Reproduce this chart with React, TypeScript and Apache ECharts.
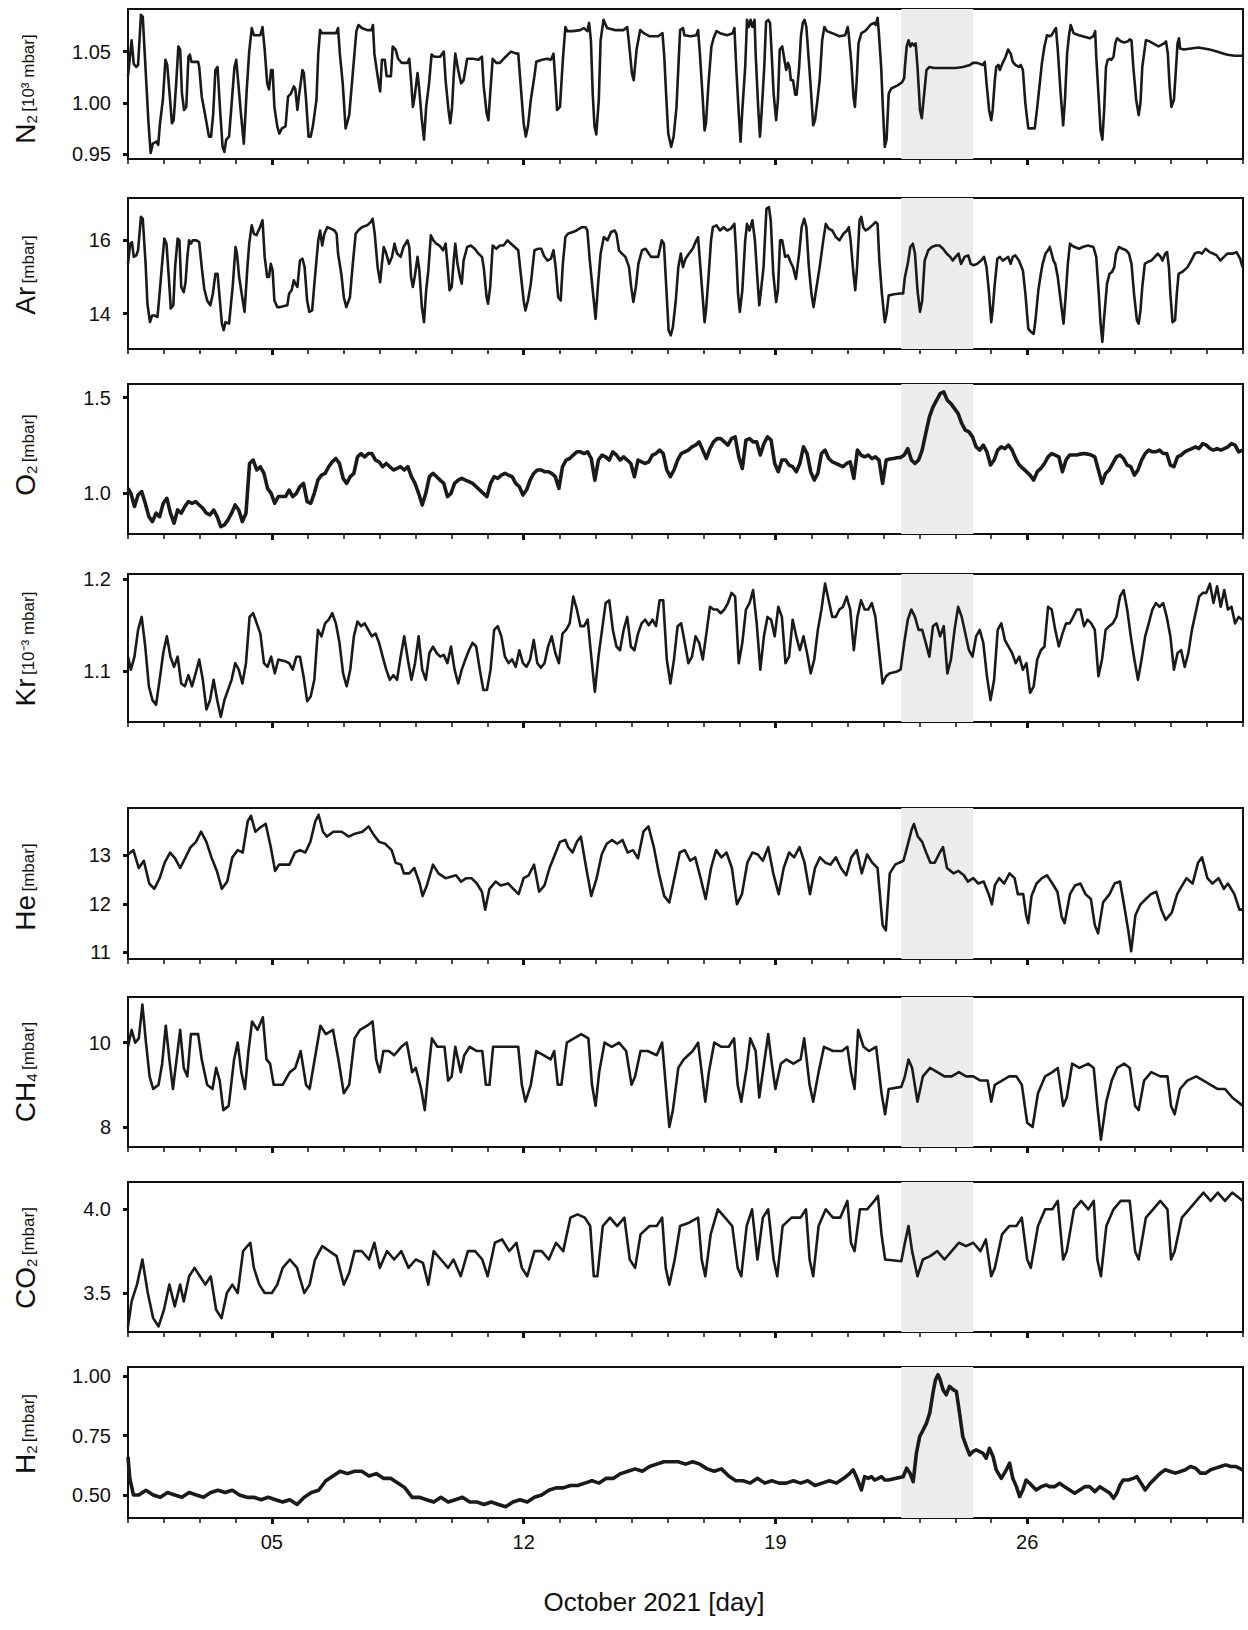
import React, { useEffect, useRef } from "react";
import * as echarts from "echarts";

// ---------- data (x = day of October 2021, 1.0 = Oct 1 00:00) ----------
const N2_DATA: [number, number][] = [
  [1.0, 1.026], [1.1, 1.061], [1.16, 1.038], [1.23, 1.035], [1.28, 1.037], [1.36, 1.086], [1.41, 1.084], [1.51, 1.019], [1.57, 0.98], [1.63, 0.951], [1.69, 0.96], [1.79, 0.962], [1.84, 0.959], [1.89, 0.98], [1.97, 1.003], [2.04, 1.042], [2.09, 1.037], [2.17, 1.003], [2.22, 0.98], [2.27, 0.983], [2.34, 1.019], [2.4, 1.055], [2.45, 1.052], [2.5, 1.009], [2.56, 0.993], [2.62, 0.996], [2.68, 1.045], [2.72, 1.047], [2.76, 1.04], [2.85, 1.04], [2.95, 1.04], [2.98, 1.035], [3.05, 1.006], [3.15, 0.987], [3.25, 0.967], [3.31, 0.967], [3.37, 0.99], [3.43, 1.032], [3.49, 1.035], [3.56, 0.993], [3.63, 0.957], [3.68, 0.952], [3.73, 0.964], [3.81, 0.967], [3.89, 1.003], [3.96, 1.035], [4.01, 1.042], [4.06, 1.022], [4.13, 0.993], [4.22, 0.96], [4.3, 1.012], [4.37, 1.05], [4.44, 1.073], [4.5, 1.066], [4.62, 1.066], [4.68, 1.066], [4.74, 1.074], [4.8, 1.052], [4.87, 1.019], [4.92, 1.013], [4.98, 1.032], [5.02, 1.032], [5.07, 0.996], [5.15, 0.977], [5.21, 0.97], [5.28, 0.975], [5.38, 0.977], [5.45, 1.006], [5.53, 1.009], [5.61, 1.016], [5.65, 1.014], [5.71, 0.993], [5.75, 1.006], [5.79, 1.016], [5.85, 1.032], [5.89, 1.029], [5.95, 1.003], [6.02, 0.967], [6.08, 0.967], [6.14, 0.977], [6.24, 1.003], [6.29, 1.048], [6.34, 1.071], [6.39, 1.068], [6.49, 1.068], [6.64, 1.068], [6.79, 1.068], [6.84, 1.073], [6.89, 1.048], [6.97, 1.019], [7.05, 0.975], [7.15, 0.988], [7.25, 1.029], [7.35, 1.07], [7.41, 1.076], [7.5, 1.073], [7.65, 1.071], [7.77, 1.071], [7.81, 1.076], [7.85, 1.048], [7.94, 1.026], [8.01, 1.011], [8.06, 1.042], [8.14, 1.042], [8.19, 1.026], [8.31, 1.026], [8.36, 1.055], [8.44, 1.052], [8.51, 1.043], [8.61, 1.039], [8.77, 1.039], [8.82, 1.043], [8.87, 1.022], [8.92, 0.996], [8.97, 1.006], [9.05, 1.029], [9.09, 1.016], [9.17, 0.983], [9.23, 0.964], [9.29, 0.996], [9.37, 1.019], [9.44, 1.047], [9.52, 1.045], [9.68, 1.045], [9.78, 1.05], [9.83, 1.022], [9.91, 0.993], [9.96, 0.98], [10.01, 0.996], [10.06, 1.029], [10.1, 1.048], [10.18, 1.032], [10.26, 1.019], [10.33, 1.022], [10.43, 1.043], [10.59, 1.043], [10.74, 1.042], [10.84, 1.045], [10.89, 1.016], [10.97, 0.99], [11.02, 0.983], [11.07, 1.009], [11.14, 1.043], [11.24, 1.039], [11.34, 1.039], [11.5, 1.045], [11.65, 1.05], [11.8, 1.048], [11.85, 1.048], [11.92, 1.016], [12.0, 0.98], [12.06, 0.967], [12.12, 0.977], [12.2, 1.003], [12.3, 1.026], [12.35, 1.04], [12.51, 1.042], [12.66, 1.043], [12.76, 1.042], [12.83, 1.048], [12.88, 1.022], [12.93, 0.993], [13.01, 0.996], [13.09, 1.042], [13.16, 1.074], [13.21, 1.07], [13.37, 1.07], [13.57, 1.071], [13.67, 1.073], [13.77, 1.07], [13.82, 1.078], [13.87, 1.061], [13.92, 1.009], [13.97, 0.977], [14.02, 0.969], [14.09, 1.003], [14.14, 1.061], [14.22, 1.081], [14.32, 1.073], [14.53, 1.071], [14.78, 1.071], [14.88, 1.074], [14.93, 1.058], [15.01, 1.029], [15.06, 1.022], [15.14, 1.052], [15.24, 1.071], [15.34, 1.068], [15.49, 1.065], [15.74, 1.065], [15.86, 1.068], [15.91, 1.045], [15.96, 1.009], [16.02, 0.97], [16.1, 0.957], [16.17, 0.967], [16.25, 0.996], [16.35, 1.071], [16.43, 1.073], [16.47, 1.066], [16.65, 1.065], [16.8, 1.066], [16.85, 1.071], [16.9, 1.048], [16.97, 1.009], [17.03, 0.973], [17.07, 0.98], [17.14, 1.019], [17.22, 1.055], [17.28, 1.063], [17.36, 1.07], [17.46, 1.068], [17.66, 1.066], [17.81, 1.068], [17.86, 1.073], [17.91, 1.035], [17.98, 0.99], [18.03, 0.962], [18.08, 0.993], [18.16, 1.035], [18.21, 1.081], [18.26, 1.074], [18.31, 1.081], [18.36, 1.074], [18.42, 1.081], [18.45, 1.048], [18.52, 0.996], [18.57, 0.967], [18.62, 0.993], [18.69, 1.035], [18.74, 1.079], [18.8, 1.081], [18.85, 1.078], [18.89, 1.052], [18.95, 1.009], [19.02, 0.983], [19.07, 1.003], [19.12, 1.052], [19.19, 1.055], [19.25, 1.042], [19.3, 1.032], [19.35, 1.039], [19.39, 1.035], [19.43, 1.022], [19.49, 1.022], [19.55, 1.008], [19.59, 1.008], [19.66, 1.035], [19.71, 1.065], [19.76, 1.078], [19.81, 1.081], [19.86, 1.074], [19.9, 1.055], [19.98, 1.016], [20.05, 0.978], [20.1, 0.983], [20.16, 1.0], [20.23, 1.022], [20.3, 1.061], [20.36, 1.074], [20.43, 1.07], [20.58, 1.068], [20.78, 1.065], [20.94, 1.066], [21.01, 1.074], [21.04, 1.066], [21.11, 1.039], [21.17, 1.006], [21.21, 0.996], [21.26, 1.022], [21.31, 1.058], [21.39, 1.068], [21.49, 1.07], [21.57, 1.073], [21.64, 1.076], [21.74, 1.078], [21.79, 1.076], [21.84, 1.083], [21.87, 1.071], [21.94, 1.035], [21.99, 0.993], [22.04, 0.957], [22.09, 0.964], [22.15, 1.009], [22.22, 1.014], [22.4, 1.017], [22.52, 1.02], [22.58, 1.024], [22.6, 1.035], [22.65, 1.055], [22.7, 1.061], [22.75, 1.055], [22.8, 1.058], [22.85, 1.056], [22.9, 1.058], [22.95, 1.035], [23.02, 0.993], [23.07, 0.985], [23.12, 1.003], [23.2, 1.032], [23.28, 1.035], [23.41, 1.034], [23.61, 1.034], [23.81, 1.034], [24.01, 1.034], [24.21, 1.035], [24.41, 1.037], [24.49, 1.039], [24.61, 1.039], [24.77, 1.037], [24.82, 1.04], [24.87, 1.019], [24.94, 0.993], [25.0, 0.983], [25.04, 0.993], [25.1, 1.022], [25.14, 1.035], [25.2, 1.037], [25.24, 1.032], [25.32, 1.039], [25.4, 1.045], [25.47, 1.052], [25.54, 1.048], [25.6, 1.04], [25.67, 1.037], [25.77, 1.035], [25.82, 1.037], [25.88, 1.032], [25.95, 0.999], [26.03, 0.975], [26.13, 0.975], [26.21, 0.975], [26.28, 0.996], [26.35, 1.019], [26.41, 1.039], [26.48, 1.055], [26.55, 1.066], [26.61, 1.065], [26.68, 1.066], [26.76, 1.071], [26.8, 1.073], [26.85, 1.052], [26.93, 1.009], [27.0, 0.978], [27.05, 1.003], [27.11, 1.048], [27.16, 1.065], [27.21, 1.076], [27.29, 1.068], [27.44, 1.066], [27.54, 1.065], [27.74, 1.063], [27.84, 1.065], [27.89, 1.07], [27.92, 1.045], [27.99, 1.003], [28.04, 0.973], [28.09, 0.964], [28.14, 0.993], [28.19, 1.035], [28.24, 1.042], [28.29, 1.043], [28.34, 1.042], [28.4, 1.045], [28.45, 1.058], [28.5, 1.063], [28.6, 1.06], [28.7, 1.059], [28.8, 1.06], [28.85, 1.062], [28.9, 1.061], [28.95, 1.035], [29.03, 1.003], [29.1, 0.988], [29.15, 1.0], [29.2, 1.035], [29.25, 1.048], [29.3, 1.061], [29.4, 1.06], [29.55, 1.057], [29.65, 1.055], [29.81, 1.058], [29.86, 1.06], [29.91, 1.048], [29.96, 1.016], [30.01, 0.996], [30.08, 1.003], [30.14, 1.035], [30.18, 1.058], [30.22, 1.063], [30.25, 1.053], [30.35, 1.052], [30.56, 1.053], [30.75, 1.054], [30.92, 1.053], [31.07, 1.052], [31.27, 1.05], [31.47, 1.048], [31.57, 1.047], [31.77, 1.046], [31.99, 1.046],
];

const AR_DATA: [number, number][] = [
  [1.0, 15.36], [1.06, 15.91], [1.11, 15.95], [1.16, 15.55], [1.23, 15.59], [1.28, 15.73], [1.36, 16.64], [1.41, 16.59], [1.49, 15.36], [1.54, 14.27], [1.61, 13.77], [1.67, 13.95], [1.74, 13.95], [1.82, 13.91], [1.87, 14.45], [1.94, 15.27], [2.01, 16.05], [2.07, 15.91], [2.14, 14.91], [2.19, 14.14], [2.26, 14.23], [2.31, 15.27], [2.38, 16.05], [2.43, 16.0], [2.48, 14.73], [2.55, 14.59], [2.6, 14.86], [2.65, 15.55], [2.7, 16.0], [2.75, 15.91], [2.8, 16.0], [2.9, 16.0], [2.98, 15.95], [3.05, 15.27], [3.12, 14.68], [3.2, 14.36], [3.29, 14.23], [3.36, 14.55], [3.43, 15.09], [3.49, 15.09], [3.53, 14.64], [3.61, 13.73], [3.66, 13.55], [3.71, 13.77], [3.81, 13.73], [3.91, 14.73], [3.99, 15.82], [4.03, 15.64], [4.09, 15.0], [4.16, 14.55], [4.24, 14.05], [4.32, 15.27], [4.37, 15.91], [4.44, 16.41], [4.5, 16.18], [4.57, 16.14], [4.67, 16.36], [4.74, 16.55], [4.8, 15.55], [4.87, 15.0], [4.92, 15.0], [4.97, 15.36], [5.02, 15.18], [5.07, 14.36], [5.15, 14.18], [5.23, 14.18], [5.43, 14.23], [5.48, 14.55], [5.55, 14.64], [5.61, 14.91], [5.65, 14.82], [5.71, 14.73], [5.78, 15.45], [5.85, 15.5], [5.91, 15.27], [5.98, 14.36], [6.04, 14.05], [6.12, 14.09], [6.19, 14.91], [6.29, 16.0], [6.34, 16.27], [6.4, 15.86], [6.46, 16.18], [6.54, 16.36], [6.64, 16.32], [6.74, 16.27], [6.8, 16.18], [6.84, 15.64], [6.93, 15.09], [7.0, 14.45], [7.07, 14.18], [7.17, 14.45], [7.25, 15.36], [7.33, 16.18], [7.4, 16.27], [7.5, 16.36], [7.65, 16.41], [7.75, 16.5], [7.8, 16.59], [7.86, 16.18], [7.94, 15.27], [8.01, 14.86], [8.06, 15.36], [8.11, 15.82], [8.18, 15.64], [8.26, 15.36], [8.34, 15.55], [8.41, 15.91], [8.48, 15.64], [8.58, 15.55], [8.66, 15.82], [8.77, 16.0], [8.82, 15.82], [8.87, 15.0], [8.92, 14.73], [8.97, 15.0], [9.05, 15.55], [9.1, 15.18], [9.17, 14.18], [9.23, 13.77], [9.29, 14.64], [9.35, 15.18], [9.42, 16.14], [9.49, 16.0], [9.57, 15.91], [9.66, 15.86], [9.76, 15.73], [9.83, 15.91], [9.88, 15.36], [9.94, 14.64], [10.0, 14.73], [10.06, 15.5], [10.1, 15.91], [10.16, 15.36], [10.23, 15.0], [10.28, 14.82], [10.33, 15.45], [10.43, 15.82], [10.53, 15.86], [10.64, 15.77], [10.74, 15.64], [10.84, 15.55], [10.89, 15.27], [10.97, 14.45], [11.01, 14.27], [11.07, 14.73], [11.14, 15.86], [11.24, 15.77], [11.34, 15.86], [11.44, 15.86], [11.55, 16.0], [11.65, 15.91], [11.75, 15.82], [11.85, 15.73], [11.92, 15.09], [12.0, 14.36], [12.05, 14.09], [12.12, 14.36], [12.2, 14.82], [12.3, 15.73], [12.39, 15.77], [12.49, 15.77], [12.56, 15.59], [12.66, 15.45], [12.76, 15.5], [12.83, 15.73], [12.89, 15.27], [12.96, 14.45], [13.03, 14.36], [13.09, 15.36], [13.16, 16.09], [13.23, 16.18], [13.37, 16.23], [13.47, 16.27], [13.62, 16.36], [13.72, 16.36], [13.77, 16.27], [13.84, 15.45], [13.92, 14.64], [14.0, 13.86], [14.07, 14.82], [14.14, 15.64], [14.23, 16.09], [14.33, 16.0], [14.43, 16.23], [14.53, 16.27], [14.58, 16.18], [14.65, 15.73], [14.73, 15.64], [14.83, 15.55], [14.93, 15.27], [14.99, 14.73], [15.05, 14.32], [15.12, 14.73], [15.19, 15.36], [15.29, 15.73], [15.39, 15.77], [15.54, 15.55], [15.64, 15.55], [15.74, 15.55], [15.84, 16.0], [15.9, 15.91], [15.96, 14.82], [16.03, 13.55], [16.09, 13.41], [16.15, 13.64], [16.23, 14.36], [16.3, 15.27], [16.37, 15.64], [16.43, 15.27], [16.5, 15.5], [16.6, 15.64], [16.7, 15.77], [16.8, 16.0], [16.85, 16.09], [16.9, 15.45], [16.97, 14.55], [17.03, 13.77], [17.07, 14.09], [17.14, 15.0], [17.21, 16.0], [17.26, 16.36], [17.36, 16.41], [17.46, 16.27], [17.56, 16.36], [17.66, 16.27], [17.76, 16.32], [17.86, 16.45], [17.91, 15.64], [17.96, 14.55], [18.01, 14.05], [18.08, 14.64], [18.16, 16.0], [18.21, 16.45], [18.28, 16.27], [18.36, 16.55], [18.43, 16.0], [18.49, 15.09], [18.55, 14.23], [18.59, 14.55], [18.67, 15.27], [18.75, 16.86], [18.82, 16.91], [18.87, 16.55], [18.94, 15.09], [19.02, 14.32], [19.07, 14.64], [19.13, 16.0], [19.19, 16.0], [19.27, 15.55], [19.35, 15.59], [19.42, 15.41], [19.49, 15.27], [19.57, 14.95], [19.66, 15.64], [19.73, 16.36], [19.8, 16.59], [19.86, 16.36], [19.93, 15.27], [20.0, 14.55], [20.06, 14.18], [20.13, 14.64], [20.23, 15.27], [20.33, 16.0], [20.4, 16.45], [20.48, 16.32], [20.58, 16.27], [20.68, 16.09], [20.78, 16.0], [20.89, 16.18], [20.99, 16.27], [21.04, 16.36], [21.09, 16.0], [21.17, 15.09], [21.22, 14.64], [21.27, 15.27], [21.34, 16.55], [21.39, 16.64], [21.44, 16.36], [21.51, 16.27], [21.59, 16.32], [21.69, 16.41], [21.79, 16.5], [21.84, 16.45], [21.89, 15.45], [21.96, 14.55], [22.04, 13.77], [22.09, 14.0], [22.15, 14.5], [22.3, 14.53], [22.45, 14.55], [22.55, 14.55], [22.6, 15.0], [22.68, 15.36], [22.75, 15.82], [22.82, 15.91], [22.88, 15.64], [22.95, 14.64], [23.02, 14.05], [23.08, 14.36], [23.15, 15.45], [23.25, 15.73], [23.35, 15.82], [23.46, 15.86], [23.56, 15.86], [23.66, 15.77], [23.76, 15.64], [23.86, 15.55], [23.93, 15.45], [24.01, 15.55], [24.09, 15.64], [24.16, 15.36], [24.26, 15.55], [24.36, 15.59], [24.43, 15.36], [24.51, 15.32], [24.61, 15.36], [24.72, 15.45], [24.8, 15.55], [24.87, 15.27], [24.94, 14.55], [25.0, 13.77], [25.04, 14.09], [25.1, 14.82], [25.17, 15.5], [25.24, 15.55], [25.32, 15.45], [25.4, 15.5], [25.47, 15.55], [25.54, 15.36], [25.6, 15.55], [25.67, 15.59], [25.77, 15.45], [25.88, 15.18], [25.95, 14.55], [26.03, 13.59], [26.11, 13.5], [26.18, 13.45], [26.23, 13.82], [26.31, 14.64], [26.38, 15.09], [26.43, 15.36], [26.51, 15.64], [26.58, 15.73], [26.63, 15.82], [26.68, 15.64], [26.73, 15.45], [26.78, 15.36], [26.85, 15.0], [26.93, 14.36], [27.01, 13.73], [27.06, 14.36], [27.13, 15.36], [27.19, 15.91], [27.24, 15.86], [27.32, 15.82], [27.44, 15.77], [27.54, 15.82], [27.69, 15.86], [27.84, 15.82], [27.92, 15.55], [27.99, 14.55], [28.04, 13.73], [28.09, 13.23], [28.14, 13.91], [28.22, 14.82], [28.29, 15.09], [28.36, 15.14], [28.42, 15.27], [28.47, 15.64], [28.55, 15.82], [28.65, 15.77], [28.75, 15.73], [28.83, 15.64], [28.9, 15.36], [28.97, 14.55], [29.05, 13.82], [29.1, 13.73], [29.15, 14.09], [29.2, 14.73], [29.27, 15.36], [29.35, 15.41], [29.45, 15.45], [29.55, 15.55], [29.63, 15.64], [29.71, 15.55], [29.76, 15.45], [29.84, 15.64], [29.89, 15.68], [29.94, 15.27], [29.98, 14.55], [30.04, 13.77], [30.11, 13.82], [30.16, 14.55], [30.21, 15.09], [30.31, 15.14], [30.46, 15.27], [30.56, 15.45], [30.66, 15.64], [30.76, 15.68], [30.86, 15.64], [30.96, 15.77], [31.07, 15.68], [31.17, 15.64], [31.27, 15.59], [31.37, 15.45], [31.47, 15.55], [31.57, 15.64], [31.72, 15.64], [31.82, 15.68], [31.92, 15.5], [31.99, 15.27],
];

// O2 and Kr: first value at day 1.00, then one reading every 0.1 day from day 1.08
const O2_VALUES: number[] = [
  1.026,
  1.0, 0.931, 0.991, 1.009, 0.948, 0.878, 0.852, 0.896, 0.878, 0.948, 0.974, 0.896, 0.844, 0.913, 0.896, 0.931, 0.957, 0.948, 0.957, 0.939,
  0.922, 0.896, 0.887, 0.913, 0.878, 0.826, 0.835, 0.861, 0.896, 0.939, 0.913, 0.852, 0.896, 1.156, 1.174, 1.122, 1.139, 1.104, 1.026, 1.0,
  0.948, 0.983, 0.983, 0.983, 1.017, 0.983, 1.0, 1.035, 1.052, 0.957, 0.948, 1.0, 1.069, 1.095, 1.104, 1.139, 1.165, 1.182, 1.156, 1.078,
  1.052, 1.087, 1.104, 1.191, 1.208, 1.191, 1.208, 1.208, 1.174, 1.165, 1.139, 1.156, 1.139, 1.122, 1.13, 1.139, 1.122, 1.139, 1.087, 1.052,
  1.0, 0.939, 1.0, 1.087, 1.104, 1.087, 1.069, 1.052, 0.983, 1.0, 1.052, 1.069, 1.078, 1.069, 1.061, 1.052, 1.035, 1.017, 1.0, 0.983,
  1.052, 1.087, 1.078, 1.095, 1.104, 1.095, 1.087, 1.052, 1.035, 0.991, 1.017, 1.069, 1.104, 1.122, 1.122, 1.113, 1.113, 1.104, 1.087, 1.026,
  1.139, 1.174, 1.182, 1.2, 1.217, 1.217, 1.208, 1.217, 1.182, 1.069, 1.174, 1.2, 1.191, 1.174, 1.217, 1.2, 1.174, 1.191, 1.174, 1.156,
  1.087, 1.174, 1.165, 1.156, 1.165, 1.2, 1.208, 1.226, 1.208, 1.122, 1.087, 1.122, 1.174, 1.208, 1.217, 1.226, 1.243, 1.252, 1.269, 1.226,
  1.182, 1.234, 1.269, 1.286, 1.286, 1.269, 1.252, 1.286, 1.295, 1.191, 1.13, 1.278, 1.286, 1.269, 1.269, 1.2, 1.26, 1.295, 1.278, 1.156,
  1.113, 1.174, 1.174, 1.148, 1.139, 1.113, 1.156, 1.243, 1.208, 1.113, 1.069, 1.104, 1.208, 1.226, 1.182, 1.165, 1.156, 1.148, 1.139, 1.156,
  1.165, 1.078, 1.226, 1.2, 1.191, 1.2, 1.182, 1.191, 1.174, 1.052, 1.174, 1.179, 1.182, 1.186, 1.188, 1.2, 1.234, 1.174, 1.156, 1.174,
  1.226, 1.313, 1.399, 1.451, 1.486, 1.521, 1.53, 1.486, 1.469, 1.443, 1.417, 1.365, 1.33, 1.321, 1.295, 1.243, 1.226, 1.252, 1.217, 1.148,
  1.174, 1.226, 1.243, 1.234, 1.252, 1.226, 1.182, 1.148, 1.13, 1.113, 1.095, 1.069, 1.113, 1.13, 1.156, 1.191, 1.208, 1.2, 1.191, 1.113,
  1.174, 1.2, 1.2, 1.2, 1.205, 1.208, 1.205, 1.2, 1.191, 1.122, 1.052, 1.104, 1.122, 1.156, 1.191, 1.2, 1.182, 1.148, 1.139, 1.095,
  1.122, 1.174, 1.208, 1.226, 1.217, 1.217, 1.226, 1.208, 1.208, 1.148, 1.139, 1.191, 1.2, 1.217, 1.226, 1.234, 1.243, 1.234, 1.26, 1.252,
  1.234, 1.226, 1.234, 1.226, 1.234, 1.243, 1.26, 1.252, 1.217, 1.226,
];

const KR_VALUES: number[] = [
  1.116,
  1.102, 1.116, 1.145, 1.159, 1.127, 1.084, 1.069, 1.064, 1.091, 1.12, 1.138, 1.116, 1.105, 1.116, 1.087, 1.084, 1.096, 1.084, 1.098, 1.113,
  1.091, 1.059, 1.069, 1.091, 1.069, 1.051, 1.069, 1.08, 1.091, 1.109, 1.102, 1.087, 1.109, 1.159, 1.163, 1.152, 1.141, 1.109, 1.105, 1.116,
  1.098, 1.113, 1.112, 1.111, 1.109, 1.102, 1.116, 1.116, 1.095, 1.068, 1.073, 1.091, 1.145, 1.138, 1.152, 1.156, 1.163, 1.152, 1.131, 1.098,
  1.084, 1.102, 1.138, 1.154, 1.149, 1.152, 1.145, 1.138, 1.141, 1.131, 1.116, 1.102, 1.091, 1.096, 1.091, 1.116, 1.138, 1.113, 1.091, 1.109,
  1.138, 1.102, 1.091, 1.12, 1.127, 1.12, 1.116, 1.118, 1.109, 1.127, 1.102, 1.087, 1.102, 1.113, 1.123, 1.131, 1.127, 1.102, 1.08, 1.08,
  1.102, 1.145, 1.149, 1.138, 1.116, 1.109, 1.113, 1.105, 1.123, 1.109, 1.105, 1.113, 1.134, 1.109, 1.104, 1.109, 1.127, 1.138, 1.12, 1.109,
  1.141, 1.145, 1.152, 1.181, 1.167, 1.149, 1.149, 1.156, 1.116, 1.078, 1.116, 1.145, 1.174, 1.177, 1.145, 1.127, 1.123, 1.145, 1.159, 1.127,
  1.123, 1.141, 1.152, 1.156, 1.15, 1.156, 1.149, 1.177, 1.177, 1.113, 1.087, 1.113, 1.149, 1.152, 1.131, 1.109, 1.116, 1.138, 1.131, 1.113,
  1.141, 1.17, 1.167, 1.167, 1.163, 1.167, 1.174, 1.185, 1.181, 1.109, 1.131, 1.167, 1.174, 1.188, 1.152, 1.102, 1.138, 1.159, 1.156, 1.138,
  1.17, 1.159, 1.109, 1.116, 1.156, 1.138, 1.123, 1.138, 1.12, 1.098, 1.113, 1.145, 1.167, 1.195, 1.177, 1.159, 1.159, 1.167, 1.17, 1.181,
  1.167, 1.123, 1.159, 1.177, 1.167, 1.167, 1.174, 1.159, 1.123, 1.087, 1.095, 1.098, 1.099, 1.1, 1.102, 1.131, 1.156, 1.167, 1.159, 1.145,
  1.145, 1.131, 1.116, 1.149, 1.152, 1.138, 1.149, 1.098, 1.113, 1.145, 1.17, 1.159, 1.141, 1.123, 1.116, 1.138, 1.145, 1.131, 1.095, 1.069,
  1.091, 1.145, 1.152, 1.134, 1.127, 1.12, 1.109, 1.116, 1.102, 1.109, 1.077, 1.084, 1.113, 1.123, 1.127, 1.17, 1.167, 1.145, 1.127, 1.141,
  1.152, 1.152, 1.159, 1.167, 1.167, 1.149, 1.156, 1.152, 1.145, 1.095, 1.113, 1.145, 1.149, 1.152, 1.159, 1.181, 1.188, 1.167, 1.138, 1.113,
  1.091, 1.113, 1.138, 1.152, 1.167, 1.174, 1.17, 1.174, 1.159, 1.138, 1.102, 1.12, 1.123, 1.105, 1.12, 1.145, 1.163, 1.181, 1.185, 1.185,
  1.195, 1.174, 1.192, 1.17, 1.188, 1.167, 1.17, 1.152, 1.159, 1.156,
];

const HE_DATA: [number, number][] = [
  [1.0, 13.02], [1.15, 13.11], [1.3, 12.74], [1.44, 12.89], [1.59, 12.42], [1.73, 12.31], [1.88, 12.53], [2.02, 12.85], [2.17, 13.06], [2.31, 12.94], [2.45, 12.74], [2.6, 12.96], [2.74, 13.17], [2.89, 13.28], [3.03, 13.49], [3.18, 13.28], [3.32, 12.96], [3.47, 12.68], [3.61, 12.31], [3.76, 12.46], [3.9, 12.96], [4.05, 13.11], [4.19, 13.06], [4.33, 13.71], [4.42, 13.82], [4.54, 13.49], [4.68, 13.58], [4.83, 13.65], [4.97, 13.17], [5.09, 12.68], [5.2, 12.81], [5.49, 12.81], [5.64, 13.06], [5.78, 13.11], [5.93, 13.06], [6.07, 13.28], [6.21, 13.71], [6.3, 13.84], [6.42, 13.49], [6.53, 13.39], [6.71, 13.49], [6.94, 13.49], [7.14, 13.39], [7.31, 13.45], [7.52, 13.49], [7.69, 13.6], [7.81, 13.45], [7.98, 13.28], [8.15, 13.24], [8.33, 13.11], [8.44, 12.85], [8.59, 12.81], [8.67, 12.63], [8.82, 12.63], [8.96, 12.74], [9.11, 12.42], [9.19, 12.16], [9.31, 12.38], [9.48, 12.81], [9.63, 12.63], [9.83, 12.53], [10.12, 12.59], [10.26, 12.46], [10.41, 12.53], [10.55, 12.53], [10.7, 12.42], [10.84, 12.25], [10.93, 11.88], [11.05, 12.31], [11.22, 12.46], [11.36, 12.38], [11.57, 12.42], [11.74, 12.29], [11.86, 12.2], [12.0, 12.53], [12.14, 12.59], [12.29, 12.81], [12.43, 12.25], [12.58, 12.38], [12.72, 12.74], [12.87, 13.02], [13.01, 13.28], [13.16, 13.32], [13.24, 13.17], [13.36, 13.06], [13.48, 13.28], [13.59, 13.39], [13.74, 12.74], [13.88, 12.16], [14.03, 12.53], [14.17, 13.02], [14.31, 13.24], [14.46, 13.32], [14.6, 13.24], [14.75, 13.32], [14.89, 13.06], [15.04, 13.11], [15.18, 12.94], [15.33, 13.49], [15.47, 13.6], [15.62, 13.17], [15.76, 12.63], [15.91, 12.16], [16.05, 12.03], [16.19, 12.53], [16.34, 13.06], [16.48, 13.11], [16.63, 12.89], [16.77, 12.96], [16.92, 12.53], [17.06, 12.1], [17.21, 12.74], [17.35, 13.11], [17.5, 12.96], [17.64, 13.06], [17.79, 12.74], [17.93, 11.99], [18.07, 12.2], [18.22, 12.85], [18.36, 13.06], [18.51, 13.02], [18.65, 12.89], [18.8, 13.17], [18.94, 12.63], [19.09, 12.2], [19.23, 12.74], [19.38, 13.06], [19.52, 12.96], [19.67, 13.17], [19.81, 12.85], [19.96, 12.2], [20.1, 12.74], [20.24, 12.96], [20.39, 12.85], [20.53, 12.81], [20.68, 12.96], [20.82, 12.74], [20.97, 12.59], [21.11, 12.96], [21.26, 13.11], [21.4, 12.63], [21.55, 13.02], [21.69, 12.85], [21.84, 12.74], [21.98, 11.56], [22.07, 11.45], [22.18, 12.63], [22.33, 12.81], [22.44, 12.85], [22.56, 12.89], [22.7, 13.28], [22.79, 13.54], [22.85, 13.65], [22.96, 13.39], [23.08, 13.28], [23.19, 13.06], [23.31, 12.85], [23.43, 12.85], [23.57, 13.06], [23.66, 13.17], [23.77, 12.74], [23.95, 12.63], [24.09, 12.68], [24.24, 12.59], [24.35, 12.46], [24.5, 12.53], [24.64, 12.42], [24.79, 12.46], [24.93, 12.2], [25.02, 11.99], [25.1, 12.38], [25.22, 12.53], [25.36, 12.42], [25.51, 12.63], [25.65, 12.53], [25.74, 12.2], [25.89, 12.2], [25.97, 11.77], [26.03, 11.6], [26.12, 12.16], [26.26, 12.42], [26.41, 12.53], [26.55, 12.59], [26.7, 12.42], [26.84, 12.25], [26.96, 11.73], [27.04, 11.6], [27.19, 12.2], [27.33, 12.38], [27.48, 12.42], [27.62, 12.2], [27.77, 12.1], [27.88, 11.56], [27.97, 11.39], [28.11, 12.03], [28.29, 12.2], [28.43, 12.42], [28.58, 12.46], [28.69, 11.99], [28.81, 11.45], [28.89, 11.02], [29.01, 11.77], [29.15, 11.99], [29.3, 12.1], [29.44, 12.2], [29.59, 12.25], [29.73, 11.88], [29.85, 11.67], [30.02, 11.82], [30.17, 12.2], [30.31, 12.38], [30.43, 12.53], [30.6, 12.42], [30.75, 12.85], [30.86, 12.96], [31.01, 12.53], [31.15, 12.42], [31.32, 12.53], [31.47, 12.31], [31.58, 12.42], [31.76, 12.2], [31.9, 11.88], [31.99, 11.88],
];

const CH4_DATA: [number, number][] = [
  [1.0, 9.9], [1.1, 10.3], [1.2, 10.0], [1.3, 10.1], [1.4, 10.9], [1.5, 10.0], [1.6, 9.2], [1.7, 8.9], [1.85, 9.0], [1.95, 9.5], [2.05, 10.4], [2.15, 9.6], [2.25, 8.9], [2.35, 9.6], [2.45, 10.3], [2.55, 9.4], [2.65, 9.2], [2.75, 10.2], [2.95, 10.2], [3.05, 9.6], [3.2, 9.0], [3.35, 8.9], [3.45, 9.4], [3.55, 9.1], [3.65, 8.4], [3.8, 8.5], [3.95, 9.6], [4.05, 10.0], [4.15, 9.3], [4.25, 8.9], [4.35, 9.8], [4.45, 10.5], [4.6, 10.3], [4.75, 10.6], [4.85, 9.6], [4.95, 9.5], [5.05, 9.0], [5.3, 9.0], [5.5, 9.3], [5.65, 9.4], [5.8, 9.8], [5.95, 9.0], [6.05, 8.9], [6.25, 9.9], [6.35, 10.4], [6.5, 10.2], [6.7, 10.3], [6.85, 9.6], [7.0, 8.8], [7.15, 9.0], [7.3, 10.1], [7.45, 10.3], [7.65, 10.4], [7.8, 10.5], [7.9, 9.6], [8.0, 9.3], [8.1, 9.8], [8.25, 9.8], [8.4, 9.7], [8.6, 9.9], [8.75, 10.0], [8.9, 9.3], [9.0, 9.4], [9.15, 8.9], [9.25, 8.4], [9.35, 9.3], [9.45, 10.1], [9.6, 9.9], [9.8, 9.9], [9.9, 9.1], [10.0, 9.2], [10.1, 9.9], [10.25, 9.3], [10.35, 9.7], [10.5, 9.9], [10.7, 9.8], [10.85, 9.8], [10.95, 9.0], [11.05, 9.0], [11.15, 9.9], [11.3, 9.9], [11.5, 9.9], [11.7, 9.9], [11.85, 9.9], [11.95, 9.0], [12.05, 8.6], [12.2, 9.0], [12.35, 9.8], [12.55, 9.7], [12.75, 9.6], [12.85, 9.8], [12.95, 9.0], [13.05, 9.0], [13.2, 10.0], [13.4, 10.1], [13.6, 10.2], [13.8, 10.1], [13.9, 9.0], [14.0, 8.5], [14.1, 9.3], [14.25, 10.0], [14.45, 9.9], [14.65, 10.0], [14.85, 9.8], [15.0, 9.0], [15.1, 9.2], [15.25, 9.8], [15.45, 9.8], [15.7, 9.7], [15.85, 10.0], [15.95, 9.0], [16.05, 8.0], [16.15, 8.4], [16.3, 9.4], [16.45, 9.6], [16.7, 9.8], [16.85, 10.0], [16.95, 9.3], [17.05, 8.6], [17.15, 9.3], [17.3, 10.0], [17.5, 9.9], [17.7, 9.9], [17.85, 10.1], [17.95, 9.0], [18.05, 8.6], [18.2, 9.4], [18.3, 10.1], [18.45, 9.8], [18.55, 8.7], [18.7, 9.6], [18.8, 10.2], [18.9, 9.5], [19.0, 8.9], [19.15, 9.5], [19.3, 9.6], [19.5, 9.5], [19.7, 9.6], [19.8, 10.1], [19.95, 9.0], [20.05, 8.6], [20.2, 9.3], [20.35, 9.9], [20.6, 9.8], [20.85, 9.8], [21.0, 9.9], [21.1, 9.3], [21.2, 8.9], [21.3, 10.3], [21.45, 9.9], [21.6, 9.8], [21.8, 9.9], [21.95, 8.8], [22.05, 8.3], [22.15, 8.9], [22.5, 8.95], [22.6, 9.2], [22.7, 9.6], [22.8, 9.4], [22.95, 8.6], [23.1, 9.2], [23.3, 9.4], [23.5, 9.3], [23.7, 9.2], [23.9, 9.2], [24.1, 9.3], [24.3, 9.2], [24.5, 9.2], [24.7, 9.1], [24.9, 9.1], [25.0, 8.6], [25.1, 9.0], [25.3, 9.1], [25.5, 9.2], [25.7, 9.2], [25.85, 9.0], [26.0, 8.1], [26.15, 8.0], [26.3, 8.8], [26.5, 9.2], [26.7, 9.3], [26.85, 9.4], [27.0, 8.5], [27.1, 8.7], [27.25, 9.5], [27.45, 9.4], [27.7, 9.5], [27.85, 9.4], [27.95, 8.5], [28.05, 7.7], [28.2, 8.6], [28.35, 9.1], [28.5, 9.4], [28.7, 9.5], [28.85, 9.4], [29.0, 8.5], [29.1, 8.4], [29.25, 9.1], [29.45, 9.3], [29.7, 9.2], [29.9, 9.2], [30.0, 8.5], [30.1, 8.3], [30.25, 8.9], [30.45, 9.1], [30.7, 9.2], [30.9, 9.1], [31.1, 9.0], [31.3, 8.9], [31.5, 8.9], [31.7, 8.7], [32.0, 8.5],
];

const CO2_DATA: [number, number][] = [
  [1.0, 3.3], [1.1, 3.45], [1.25, 3.55], [1.4, 3.7], [1.55, 3.5], [1.7, 3.35], [1.85, 3.3], [2.0, 3.4], [2.15, 3.55], [2.3, 3.42], [2.45, 3.55], [2.55, 3.45], [2.7, 3.6], [2.85, 3.65], [3.0, 3.6], [3.15, 3.55], [3.3, 3.6], [3.45, 3.4], [3.6, 3.35], [3.75, 3.5], [3.9, 3.55], [4.05, 3.5], [4.2, 3.75], [4.4, 3.8], [4.5, 3.65], [4.65, 3.55], [4.8, 3.5], [5.0, 3.5], [5.15, 3.55], [5.3, 3.65], [5.5, 3.7], [5.7, 3.65], [5.9, 3.5], [6.05, 3.55], [6.2, 3.7], [6.4, 3.78], [6.6, 3.75], [6.8, 3.72], [7.0, 3.55], [7.15, 3.62], [7.3, 3.75], [7.5, 3.75], [7.7, 3.7], [7.85, 3.8], [8.0, 3.65], [8.2, 3.75], [8.4, 3.7], [8.6, 3.75], [8.8, 3.65], [9.0, 3.7], [9.2, 3.68], [9.35, 3.55], [9.5, 3.75], [9.7, 3.7], [9.9, 3.65], [10.05, 3.7], [10.25, 3.6], [10.45, 3.75], [10.65, 3.75], [10.85, 3.7], [11.0, 3.6], [11.2, 3.8], [11.4, 3.82], [11.6, 3.75], [11.8, 3.8], [11.95, 3.65], [12.1, 3.6], [12.3, 3.75], [12.5, 3.75], [12.7, 3.7], [12.9, 3.8], [13.1, 3.75], [13.3, 3.95], [13.5, 3.97], [13.7, 3.95], [13.85, 3.9], [13.95, 3.6], [14.05, 3.6], [14.2, 3.9], [14.4, 3.95], [14.6, 3.9], [14.8, 3.95], [14.95, 3.7], [15.1, 3.65], [15.25, 3.85], [15.5, 3.9], [15.7, 3.9], [15.85, 3.95], [15.95, 3.65], [16.05, 3.55], [16.2, 3.7], [16.35, 3.9], [16.6, 3.92], [16.85, 3.95], [16.95, 3.7], [17.05, 3.6], [17.2, 3.85], [17.4, 4.0], [17.6, 3.95], [17.8, 3.9], [17.95, 3.65], [18.05, 3.6], [18.2, 3.9], [18.35, 4.0], [18.5, 3.7], [18.65, 3.95], [18.8, 4.0], [18.95, 3.7], [19.05, 3.6], [19.2, 3.9], [19.45, 3.95], [19.7, 3.95], [19.85, 4.0], [19.95, 3.7], [20.05, 3.6], [20.2, 3.9], [20.4, 4.0], [20.6, 3.95], [20.8, 3.95], [21.0, 4.05], [21.1, 3.8], [21.2, 3.75], [21.35, 4.0], [21.55, 4.0], [21.75, 4.05], [21.85, 4.08], [21.95, 3.85], [22.05, 3.7], [22.5, 3.69], [22.6, 3.8], [22.7, 3.9], [22.8, 3.75], [22.95, 3.6], [23.1, 3.7], [23.3, 3.72], [23.5, 3.75], [23.7, 3.7], [23.9, 3.75], [24.1, 3.8], [24.3, 3.78], [24.5, 3.8], [24.7, 3.75], [24.85, 3.82], [25.0, 3.6], [25.1, 3.65], [25.3, 3.85], [25.5, 3.9], [25.7, 3.9], [25.85, 3.95], [26.0, 3.7], [26.1, 3.65], [26.3, 3.9], [26.5, 4.0], [26.7, 4.0], [26.85, 4.05], [27.0, 3.7], [27.1, 3.75], [27.3, 4.0], [27.5, 4.05], [27.7, 4.0], [27.85, 4.05], [27.95, 3.7], [28.05, 3.6], [28.2, 3.9], [28.4, 4.0], [28.6, 4.05], [28.85, 4.05], [29.0, 3.75], [29.1, 3.7], [29.3, 3.95], [29.5, 4.0], [29.7, 4.05], [29.9, 4.0], [30.0, 3.7], [30.1, 3.75], [30.3, 3.95], [30.5, 4.0], [30.7, 4.05], [30.9, 4.1], [31.1, 4.05], [31.3, 4.1], [31.5, 4.05], [31.7, 4.1], [32.0, 4.05],
];

const H2_DATA: [number, number][] = [
  [1.0, 0.66], [1.05, 0.57], [1.15, 0.5], [1.3, 0.5], [1.5, 0.52], [1.7, 0.5], [1.9, 0.49], [2.1, 0.51], [2.3, 0.5], [2.5, 0.49], [2.7, 0.51], [2.9, 0.5], [3.1, 0.49], [3.3, 0.51], [3.5, 0.52], [3.7, 0.51], [3.9, 0.52], [4.1, 0.5], [4.3, 0.49], [4.5, 0.49], [4.7, 0.48], [4.9, 0.49], [5.1, 0.48], [5.3, 0.47], [5.5, 0.48], [5.7, 0.46], [5.9, 0.49], [6.1, 0.51], [6.3, 0.52], [6.5, 0.56], [6.7, 0.58], [6.9, 0.6], [7.1, 0.59], [7.3, 0.6], [7.5, 0.6], [7.7, 0.58], [7.9, 0.59], [8.1, 0.57], [8.3, 0.57], [8.5, 0.55], [8.7, 0.53], [8.9, 0.49], [9.1, 0.49], [9.3, 0.48], [9.5, 0.47], [9.7, 0.49], [9.9, 0.47], [10.1, 0.48], [10.3, 0.49], [10.5, 0.47], [10.7, 0.47], [10.9, 0.46], [11.1, 0.47], [11.3, 0.46], [11.5, 0.45], [11.7, 0.47], [11.9, 0.48], [12.1, 0.47], [12.3, 0.49], [12.5, 0.5], [12.7, 0.52], [12.9, 0.53], [13.1, 0.53], [13.3, 0.54], [13.5, 0.54], [13.7, 0.55], [13.9, 0.56], [14.1, 0.55], [14.3, 0.57], [14.5, 0.57], [14.7, 0.59], [14.9, 0.6], [15.1, 0.61], [15.3, 0.6], [15.5, 0.62], [15.7, 0.63], [15.9, 0.64], [16.1, 0.64], [16.3, 0.64], [16.5, 0.63], [16.7, 0.64], [16.9, 0.63], [17.1, 0.61], [17.3, 0.6], [17.5, 0.61], [17.7, 0.58], [17.9, 0.56], [18.1, 0.56], [18.3, 0.55], [18.5, 0.57], [18.7, 0.55], [18.9, 0.56], [19.1, 0.55], [19.3, 0.55], [19.5, 0.56], [19.7, 0.55], [19.9, 0.56], [20.1, 0.54], [20.3, 0.55], [20.5, 0.56], [20.7, 0.55], [20.9, 0.57],
  [21.07, 0.591], [21.16, 0.606], [21.25, 0.577], [21.39, 0.521], [21.48, 0.577], [21.58, 0.57], [21.67, 0.577], [21.76, 0.563], [21.86, 0.57], [21.95, 0.577], [22.04, 0.563], [22.14, 0.563], [22.55, 0.577], [22.65, 0.613], [22.74, 0.592], [22.83, 0.556], [22.92, 0.676], [23.01, 0.746], [23.11, 0.775], [23.2, 0.803], [23.29, 0.845], [23.38, 0.93], [23.45, 0.986], [23.52, 1.007], [23.58, 0.986], [23.66, 0.944], [23.75, 0.923], [23.84, 0.958], [23.94, 0.944], [24.03, 0.937], [24.12, 0.845], [24.21, 0.746], [24.31, 0.704], [24.4, 0.669], [24.49, 0.683], [24.58, 0.69], [24.68, 0.683], [24.77, 0.676], [24.86, 0.655], [24.95, 0.697], [25.05, 0.662], [25.14, 0.606], [25.28, 0.57], [25.42, 0.606], [25.51, 0.634], [25.6, 0.57], [25.7, 0.535], [25.79, 0.493], [25.88, 0.521], [25.97, 0.563], [26.07, 0.549], [26.16, 0.535], [26.25, 0.521], [26.39, 0.535], [26.53, 0.542], [26.62, 0.535], [26.76, 0.535], [26.9, 0.549], [27.04, 0.535], [27.18, 0.521], [27.32, 0.507], [27.46, 0.521], [27.6, 0.535], [27.74, 0.535], [27.88, 0.514], [28.02, 0.535], [28.16, 0.521], [28.3, 0.507], [28.4, 0.486], [28.49, 0.507], [28.58, 0.542], [28.67, 0.563], [28.81, 0.563], [28.95, 0.57], [29.05, 0.577], [29.14, 0.556], [29.28, 0.521], [29.42, 0.549], [29.56, 0.57], [29.7, 0.592], [29.84, 0.606], [29.98, 0.599], [30.12, 0.592], [30.26, 0.599], [30.4, 0.606], [30.54, 0.62], [30.68, 0.613], [30.82, 0.592], [30.96, 0.592], [31.1, 0.606], [31.24, 0.613], [31.38, 0.62], [31.52, 0.627], [31.66, 0.62], [31.8, 0.62], [31.99, 0.606],
];

const X_MIN = 1;
const X_MAX = 32;
const MAJOR_DAYS = [5, 12, 19, 26];
const SHADE_FROM = 22.5;
const SHADE_TO = 24.5;
const SAMPLE_FIRST = 1.0;
const SAMPLE_START = 1.08;
const SAMPLE_STEP = 0.1;

const N2_TICKS = [0.95, 1.0, 1.05];
const AR_TICKS = [14, 16];
const O2_TICKS = [1.0, 1.5];
const KR_TICKS = [1.1, 1.2];
const HE_TICKS = [11, 12, 13];
const CH4_TICKS = [8, 10];
const CO2_TICKS = [3.5, 4.0];
const H2_TICKS = [0.5, 0.75, 1.0];

const X_TITLE = "October 2021 [day]";

function sampled(values: number[]): [number, number][] {
  return values.map((v, i) => [
    i === 0 ? SAMPLE_FIRST : +(SAMPLE_START + SAMPLE_STEP * (i - 1)).toFixed(3),
    v,
  ]);
}

const FONT = "'Liberation Sans', Arial, Helvetica, sans-serif";

export default function App() {
  const ref = useRef<HTMLDivElement>(null);

  useEffect(() => {
    if (!ref.current) return;
    const chart = echarts.init(ref.current, undefined, { renderer: "svg" });

    const panels = [
      { data: N2_DATA, ticks: N2_TICKS, dec: 2, min: 0.9451, max: 1.0916, top: 9, height: 150, lw: 2.6, label: "{m|N}{s|2} {u|[10³ mbar]}", ly: 89 },
      { data: AR_DATA, ticks: AR_TICKS, dec: 0, min: 13.037, max: 17.156, top: 198, height: 151, lw: 2.6, label: "{m|Ar} {u|[mbar]}", ly: 275 },
      { data: sampled(O2_VALUES), ticks: O2_TICKS, dec: 1, min: 0.7873, max: 1.5716, top: 384, height: 150, lw: 3.6, label: "{m|O}{s|2} {u|[mbar]}", ly: 455 },
      { data: sampled(KR_VALUES), ticks: KR_TICKS, dec: 1, min: 1.0454, max: 1.2054, top: 574, height: 148, lw: 2.6, label: "{m|Kr} {u|[10⁻³ mbar]}", ly: 649 },
      { data: HE_DATA, ticks: HE_TICKS, dec: 0, min: 10.86, max: 13.98, top: 808, height: 151, lw: 2.6, label: "{m|He} {u|[mbar]}", ly: 887 },
      { data: CH4_DATA, ticks: CH4_TICKS, dec: 0, min: 7.526, max: 11.08, top: 997, height: 150, lw: 2.6, label: "{m|CH}{s|4} {u|[mbar]}", ly: 1072 },
      { data: CO2_DATA, ticks: CO2_TICKS, dec: 1, min: 3.267, max: 4.163, top: 1182, height: 150, lw: 2.6, label: "{m|CO}{s|2} {u|[mbar]}", ly: 1258 },
      { data: H2_DATA, ticks: H2_TICKS, dec: 2, min: 0.4028, max: 1.0397, top: 1367, height: 151, lw: 3.6, label: "{m|H}{s|2} {u|[mbar]}", ly: 1434 },
    ];

    const last = panels.length - 1;
    const grid: any[] = [];
    const xAxis: any[] = [];
    const yAxis: any[] = [];
    const series: any[] = [];
    const graphic: any[] = [];

    const rich = {
      m: { fontSize: 28, lineHeight: 28, fontFamily: FONT, fill: "#111", verticalAlign: "bottom" },
      s: { fontSize: 15, lineHeight: 15, fontFamily: FONT, fill: "#111", verticalAlign: "bottom" },
      u: { fontSize: 17, lineHeight: 17, fontFamily: FONT, fill: "#111", verticalAlign: "bottom", padding: [0, 0, 2, 0] },
    };

    panels.forEach((p, i) => {
      grid.push({
        left: 128, width: 1115, top: p.top, height: p.height,
        show: true, borderColor: "#111", borderWidth: 2, backgroundColor: "transparent",
      });
      xAxis.push({
        type: "value", gridIndex: i, position: "bottom", min: X_MIN, max: X_MAX, interval: 1,
        axisLine: { show: false },
        axisTick: { show: true, length: 5, lineStyle: { color: "#111", width: 1.5 } },
        axisLabel: { show: false },
        splitLine: { show: false },
      });
      xAxis.push({
        type: "value", gridIndex: i, position: "bottom", min: X_MIN, max: X_MAX,
        axisLine: { show: false },
        axisTick: { show: true, customValues: MAJOR_DAYS, length: 6, lineStyle: { color: "#111", width: 3 } },
        axisLabel: {
          show: i === last, customValues: MAJOR_DAYS,
          formatter: (v: number) => String(v).padStart(2, "0"),
          fontSize: 20, fontFamily: FONT, color: "#111", margin: 14,
        },
        splitLine: { show: false },
      });
      yAxis.push({
        type: "value", gridIndex: i, min: p.min, max: p.max,
        axisLine: { show: false },
        axisTick: { show: true, customValues: p.ticks, length: 5, lineStyle: { color: "#111", width: 3 } },
        axisLabel: {
          customValues: p.ticks,
          formatter: (v: number) => v.toFixed(p.dec),
          fontSize: 20, fontFamily: FONT, color: "#111", margin: 17,
        },
        splitLine: { show: false },
      });
      series.push({
        type: "line", xAxisIndex: 2 * i, yAxisIndex: i, data: p.data,
        showSymbol: false, symbol: "none", silent: true,
        lineStyle: { color: "#1a1a1a", width: p.lw, join: "round" },
        z: 3,
        markArea: {
          silent: true,
          itemStyle: { color: "#ececec" },
          data: [[{ xAxis: SHADE_FROM }, { xAxis: SHADE_TO }]],
        },
      });
      graphic.push({
        type: "text", x: 25, y: p.ly, rotation: Math.PI / 2,
        style: { text: p.label, rich, align: "center", verticalAlign: "middle" },
      });
    });

    graphic.push({
      type: "text", x: 654, y: 1602,
      style: { text: X_TITLE, fontSize: 26, fontFamily: FONT, fill: "#111", align: "center", verticalAlign: "middle" },
    });

    chart.setOption({
      animation: false,
      backgroundColor: "#ffffff",
      grid, xAxis, yAxis, series, graphic,
    });

    return () => chart.dispose();
  }, []);

  return (
    <div
      ref={ref}
      style={{ position: "absolute", left: 0, top: 0, width: 1248, height: 1630 }}
    />
  );
}
